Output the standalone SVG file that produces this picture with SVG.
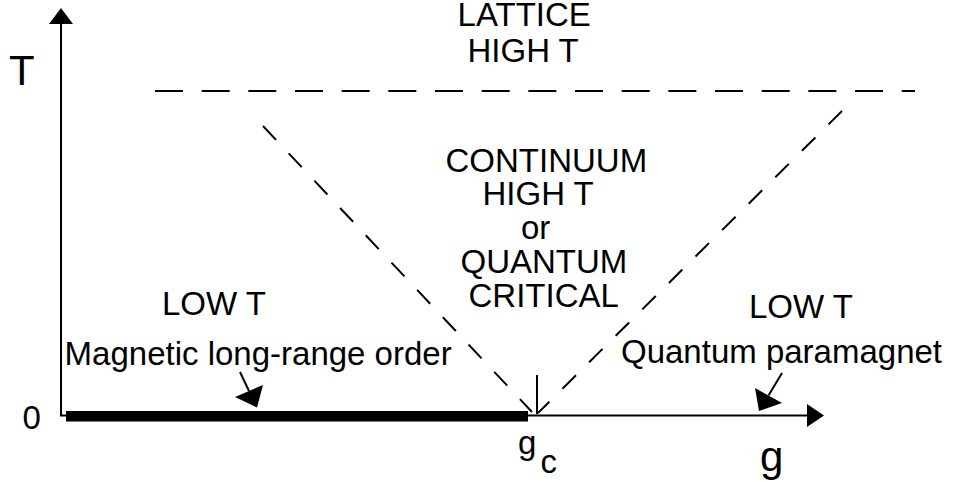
<svg xmlns="http://www.w3.org/2000/svg" width="953" height="482" viewBox="0 0 953 482">
  <style>
    text { font-family: "Liberation Sans", Arial, sans-serif; font-size: 33px; fill: #000; }
    .big { font-size: 42px; }
    .axis { stroke: #000; stroke-width: 2; fill: none; }
    .dashh { stroke: #000; stroke-width: 2; fill: none; stroke-dasharray: 28 18.67; }
    .dashd { stroke: #000; stroke-width: 2; fill: none; stroke-dasharray: 19 18.5; }
    .ptr { stroke: #000; stroke-width: 2; fill: none; }
    .head { fill: #000; stroke: none; }
  </style>
  <rect width="953" height="482" fill="#fff"/>

  <g id="axes">
    <line class="axis" x1="61" y1="22" x2="61" y2="415.5"/>
    <polygon class="head" points="61,8 49,24 73,24"/>
    <line class="axis" x1="60" y1="415.5" x2="810" y2="415.5"/>
    <polygon class="head" points="824,415.5 807,404 807,427"/>
    <rect x="66" y="411" width="462" height="10.5" fill="#000"/>
    <line class="axis" x1="537" y1="375" x2="537" y2="414"/>
    <text id="label-T" class="big" x="9" y="85">T</text>
    <text id="label-g" class="big" x="760" y="471">g</text>
    <text id="label-0" x="22.5" y="428.5">0</text>
    <text id="label-gc" x="518" y="454">g</text>
    <text id="label-gc-sub" x="540.4" y="473">c</text>
  </g>

  <g id="connectors">
    <line class="dashh" x1="155" y1="91" x2="915" y2="91"/>
    <line class="dashd" x1="263" y1="126" x2="532" y2="412"/>
    <line class="dashd" x1="842" y1="111" x2="538" y2="413"/>
    <line class="ptr" x1="240" y1="372" x2="249" y2="391"/>
    <polygon class="head" points="257,407.5 235,397 263,385"/>
    <line class="ptr" x1="782" y1="373" x2="768.5" y2="395.5"/>
    <polygon class="head" points="759,411 755,388 782,403"/>
  </g>

  <g id="lattice-high-t">
    <text x="457.6" y="26">LATTICE</text>
    <text x="467.5" y="62">HIGH T</text>
  </g>

  <g id="quantum-critical">
    <text x="445.5" y="172">CONTINUUM</text>
    <text x="482.5" y="205">HIGH T</text>
    <text x="521" y="239">or</text>
    <text x="460.5" y="273">QUANTUM</text>
    <text x="468.5" y="306.7">CRITICAL</text>
  </g>

  <g id="ordered">
    <text x="162" y="315">LOW T</text>
    <text x="64.6" y="365">Magnetic long-range order</text>
  </g>

  <g id="paramagnet">
    <text x="749" y="318">LOW T</text>
    <text x="621" y="363">Quantum paramagnet</text>
  </g>
</svg>
